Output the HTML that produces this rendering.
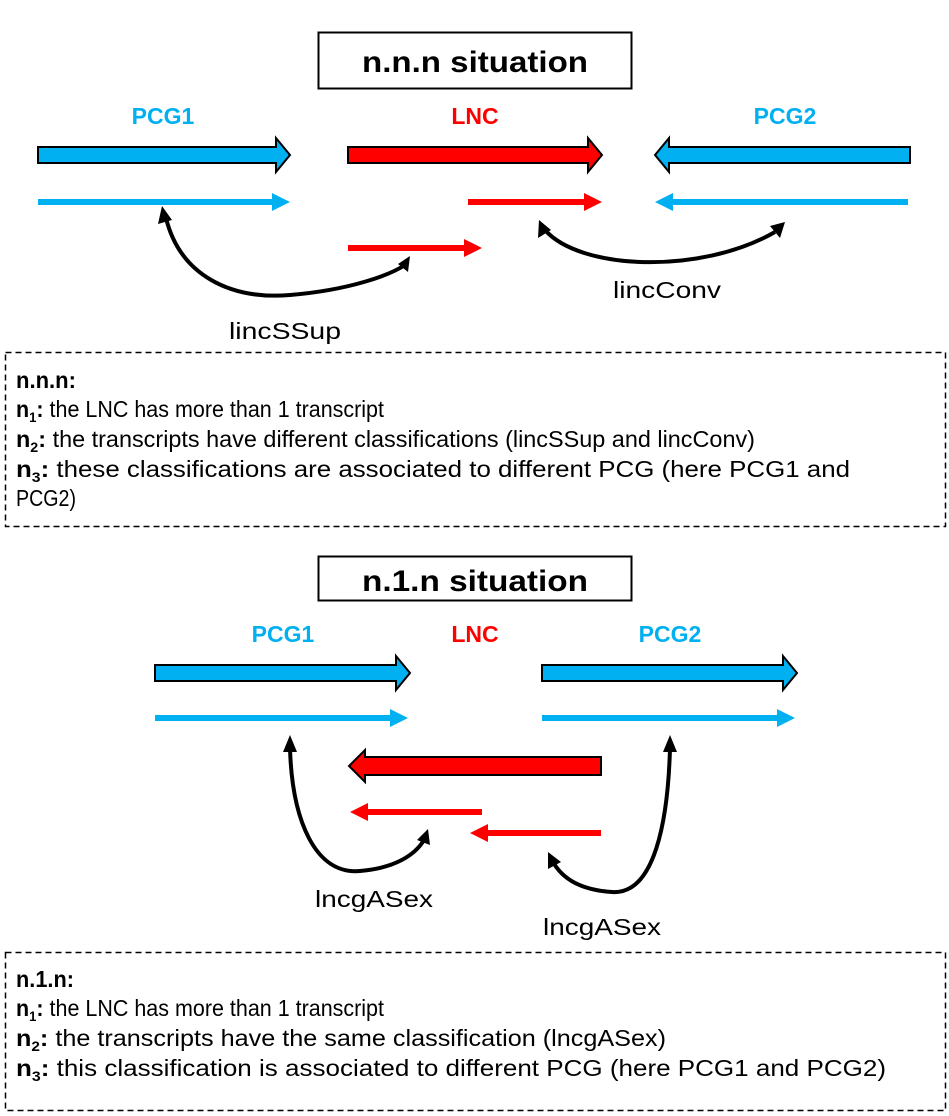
<!DOCTYPE html>
<html><head><meta charset="utf-8"><style>
body{margin:0;background:#fff;}
svg{display:block;}
text{font-family:"Liberation Sans",Arial,sans-serif;}
</style></head><body>
<svg width="949" height="1116" viewBox="0 0 949 1116" xmlns="http://www.w3.org/2000/svg">
<!-- top title -->
<rect x="318.5" y="32.5" width="313" height="56" fill="#fff" stroke="#000" stroke-width="2"/>
<text x="475" y="72" font-size="30" font-weight="bold" text-anchor="middle" textLength="226" lengthAdjust="spacingAndGlyphs">n.n.n situation</text>
<text x="163" y="124" font-size="23" font-weight="bold" fill="#00b0f0" text-anchor="middle">PCG1</text>
<text x="475" y="124" font-size="23" font-weight="bold" fill="#ff0000" text-anchor="middle">LNC</text>
<text x="785" y="124" font-size="23" font-weight="bold" fill="#00b0f0" text-anchor="middle">PCG2</text>
<polygon points="38,147 276,147 276,138 290,155 276,172 276,163 38,163" fill="#00b0f0" stroke="#000" stroke-width="2"/>
<polygon points="348,147 588,147 588,138 602,155 588,172 588,163 348,163" fill="#ff0000" stroke="#000" stroke-width="2"/>
<polygon points="910,147 669,147 669,138 655,155 669,172 669,163 910,163" fill="#00b0f0" stroke="#000" stroke-width="2"/>
<line x1="38" y1="202" x2="276" y2="202" stroke="#00b0f0" stroke-width="6"/>
<polygon points="272,193 290,202 272,211" fill="#00b0f0"/>
<line x1="468" y1="202" x2="588" y2="202" stroke="#ff0000" stroke-width="6"/>
<polygon points="584,193 602,202 584,211" fill="#ff0000"/>
<line x1="908" y1="202" x2="669" y2="202" stroke="#00b0f0" stroke-width="6"/>
<polygon points="673,193 655,202 673,211" fill="#00b0f0"/>
<line x1="348" y1="248" x2="468" y2="248" stroke="#ff0000" stroke-width="6"/>
<polygon points="464,239 482,248 464,257" fill="#ff0000"/>
<path d="M166,218 C180,275 230,300 290,295 C350,290 390,275 405,265" fill="none" stroke="#000" stroke-width="4"/>
<polygon points="162,206 158,224 172,220" fill="#000"/>
<polygon points="410,256 398,264 408,272" fill="#000"/>
<path d="M545,230 C580,270 700,275 775,232" fill="none" stroke="#000" stroke-width="4"/>
<polygon points="539,220 538,238 551,230" fill="#000"/>
<polygon points="785,222 770,226 780,238" fill="#000"/>
<text x="285" y="339" font-size="23" text-anchor="middle" textLength="112" lengthAdjust="spacingAndGlyphs">lincSSup</text>
<text x="667" y="298" font-size="23" text-anchor="middle" textLength="108" lengthAdjust="spacingAndGlyphs">lincConv</text>
<!-- box 1 -->
<rect x="5.5" y="352.5" width="940" height="174" fill="none" stroke="#000" stroke-width="1.5" stroke-dasharray="6,4"/>
<g font-size="23">
<text x="16" y="388" font-weight="bold" textLength="60" lengthAdjust="spacingAndGlyphs">n.n.n:</text>
<text x="16" y="417" textLength="368" lengthAdjust="spacingAndGlyphs"><tspan font-weight="bold">n<tspan font-size="14" dy="5">1</tspan><tspan dy="-5">:</tspan></tspan> the LNC has more than 1 transcript</text>
<text x="16" y="447" textLength="739" lengthAdjust="spacingAndGlyphs"><tspan font-weight="bold">n<tspan font-size="14" dy="5">2</tspan><tspan dy="-5">:</tspan></tspan> the transcripts have different classifications (lincSSup  and lincConv)</text>
<text x="16" y="477" textLength="834" lengthAdjust="spacingAndGlyphs"><tspan font-weight="bold">n<tspan font-size="14" dy="5">3</tspan><tspan dy="-5">:</tspan></tspan> these classifications are associated to different PCG (here PCG1 and</text>
<text x="16" y="506" textLength="60" lengthAdjust="spacingAndGlyphs">PCG2)</text>
</g>
<!-- bottom title -->
<rect x="318.5" y="556.5" width="313" height="44" fill="#fff" stroke="#000" stroke-width="2"/>
<text x="475" y="591" font-size="30" font-weight="bold" text-anchor="middle" textLength="226" lengthAdjust="spacingAndGlyphs">n.1.n situation</text>
<text x="283" y="642" font-size="23" font-weight="bold" fill="#00b0f0" text-anchor="middle">PCG1</text>
<text x="475" y="642" font-size="23" font-weight="bold" fill="#ff0000" text-anchor="middle">LNC</text>
<text x="670" y="642" font-size="23" font-weight="bold" fill="#00b0f0" text-anchor="middle">PCG2</text>
<polygon points="155,665 396,665 396,656 410,673 396,690 396,681 155,681" fill="#00b0f0" stroke="#000" stroke-width="2"/>
<polygon points="542,665 783,665 783,656 797,673 783,690 783,681 542,681" fill="#00b0f0" stroke="#000" stroke-width="2"/>
<line x1="155" y1="718" x2="394" y2="718" stroke="#00b0f0" stroke-width="6"/>
<polygon points="390,709 408,718 390,727" fill="#00b0f0"/>
<line x1="542" y1="718" x2="781" y2="718" stroke="#00b0f0" stroke-width="6"/>
<polygon points="777,709 795,718 777,727" fill="#00b0f0"/>
<polygon points="601,757 365,757 365,750 349,766 365,782 365,775 601,775" fill="#ff0000" stroke="#000" stroke-width="2"/>
<line x1="482" y1="812" x2="364" y2="812" stroke="#ff0000" stroke-width="6"/>
<polygon points="368,803 350,812 368,821" fill="#ff0000"/>
<line x1="601" y1="833" x2="484" y2="833" stroke="#ff0000" stroke-width="6"/>
<polygon points="488,824 470,833 488,842" fill="#ff0000"/>
<path d="M290,748 C292,820 315,875 360,871 C395,868 415,855 424,840" fill="none" stroke="#000" stroke-width="4"/>
<polygon points="290,735 283,752 297,752" fill="#000"/>
<polygon points="428,829 417,840 430,845" fill="#000"/>
<path d="M670,748 C668,820 655,895 612,892 C580,890 562,878 553,862" fill="none" stroke="#000" stroke-width="4"/>
<polygon points="670,735 663,752 677,752" fill="#000"/>
<polygon points="548,852 548,869 561,862" fill="#000"/>
<text x="374" y="907" font-size="23" text-anchor="middle" textLength="118" lengthAdjust="spacingAndGlyphs">lncgASex</text>
<text x="602" y="935" font-size="23" text-anchor="middle" textLength="118" lengthAdjust="spacingAndGlyphs">lncgASex</text>
<!-- box 2 -->
<rect x="5.5" y="952.5" width="940" height="158" fill="none" stroke="#000" stroke-width="1.5" stroke-dasharray="6,4"/>
<g font-size="23">
<text x="16" y="987" font-weight="bold" textLength="58" lengthAdjust="spacingAndGlyphs">n.1.n:</text>
<text x="16" y="1016" textLength="368" lengthAdjust="spacingAndGlyphs"><tspan font-weight="bold">n<tspan font-size="14" dy="5">1</tspan><tspan dy="-5">:</tspan></tspan> the LNC has more than 1 transcript</text>
<text x="16" y="1046" textLength="650" lengthAdjust="spacingAndGlyphs"><tspan font-weight="bold">n<tspan font-size="14" dy="5">2</tspan><tspan dy="-5">:</tspan></tspan> the transcripts have the same classification (lncgASex)</text>
<text x="16" y="1076" textLength="870" lengthAdjust="spacingAndGlyphs"><tspan font-weight="bold">n<tspan font-size="14" dy="5">3</tspan><tspan dy="-5">:</tspan></tspan> this classification is associated to different PCG (here PCG1 and PCG2)</text>
</g>
</svg>
</body></html>
